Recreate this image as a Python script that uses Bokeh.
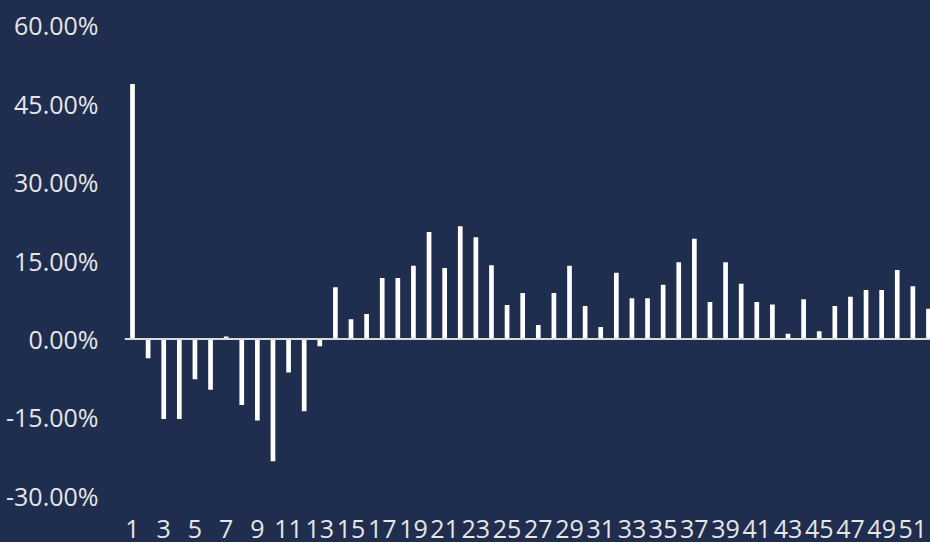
from bokeh.plotting import figure
from bokeh.models import ColumnDataSource, FixedTicker, PrintfTickFormatter, Span, Range1d
from bokeh.embed import file_html
from bokeh.resources import INLINE

# ---- data ----
periods = list(range(1, 53))
returns_pct = [
    48.8, -3.7, -15.3, -15.3, -7.7, -9.7, 0.5, -12.6, -15.6, -23.4,
    -6.4, -13.8, -1.4, 9.9, 3.8, 4.8, 11.7, 11.7, 14.0, 20.5,
    13.6, 21.6, 19.5, 14.1, 6.5, 8.8, 2.7, 8.8, 14.0, 6.3,
    2.3, 12.7, 7.8, 7.8, 10.4, 14.7, 19.2, 7.1, 14.7, 10.6,
    7.1, 6.6, 1.0, 7.6, 1.5, 6.3, 8.1, 9.4, 9.4, 13.2,
    10.1, 5.8,
]
y_ticks = [-30, -15, 0, 15, 30, 45, 60]
x_ticks = list(range(1, 52, 2))

BG = "#1f2d4f"
TXT = "#e6e6e6"
FONT = "Open Sans"

source = ColumnDataSource(dict(x=periods, top=returns_pct))

p = figure(
    width=930, height=542,
    output_backend="svg", toolbar_location=None,
    x_range=Range1d(0.487, 52.13), y_range=Range1d(-32.62, 63.44),
    background_fill_color=BG, border_fill_color=BG,
    min_border_left=124, min_border_right=0, min_border_top=7, min_border_bottom=33,
)
p.outline_line_color = None
p.xgrid.visible = False
p.ygrid.visible = False

zero = Span(location=0, dimension="width", line_color="#d9d9d9", line_width=2)
p.add_layout(zero)

p.vbar(x="x", top="top", bottom=0, width=0.3, source=source,
       fill_color="#ffffff", line_color=None)

for ax in (p.xaxis[0], p.yaxis[0]):
    ax.axis_line_color = None
    ax.major_tick_line_color = None
    ax.minor_tick_line_color = None
    ax.major_tick_out = 0
    ax.major_tick_in = 0
    ax.minor_tick_out = 0
    ax.major_label_text_color = TXT
    ax.major_label_text_font = FONT
    ax.major_label_text_font_size = "25px"

p.yaxis[0].ticker = FixedTicker(ticks=y_ticks)
p.yaxis[0].formatter = PrintfTickFormatter(format="%.2f%%")
p.yaxis[0].major_label_standoff = 26
p.xaxis[0].ticker = FixedTicker(ticks=x_ticks)
p.xaxis[0].major_label_standoff = 10

template = """
{% block preamble %}<style>html, body { background: #1f2d4f; }</style>{% endblock %}
"""

open("out.html", "w").write(file_html(p, INLINE, template=template))
